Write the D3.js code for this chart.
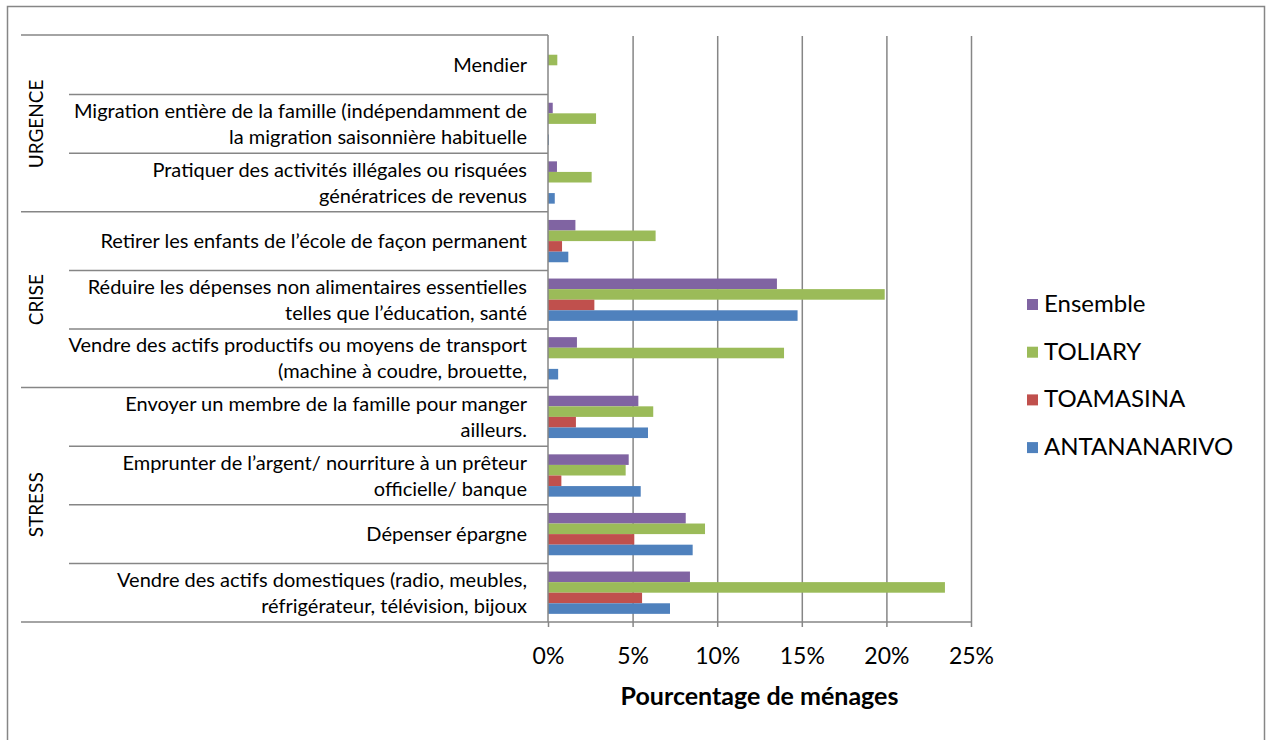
<!DOCTYPE html>
<html>
<head>
<meta charset="utf-8">
<script src="https://cdn.jsdelivr.net/npm/d3@7"></script>
<style>
  body { margin: 0; background: #fff; }
  svg { display: block; font-family: Lato, "Open Sans", sans-serif; }
</style>
</head>
<body>
<svg id="chart" width="1266" height="740"></svg>
<script>
// categories top to bottom, "\n" = line break in the label
var categories = [
    "Mendier",
    "Migration entière de la famille (indépendamment de\nla migration saisonnière habituelle",
    "Pratiquer des activités illégales ou risquées\ngénératrices de revenus",
    "Retirer les enfants de l’école de façon permanent",
    "Réduire les dépenses non alimentaires essentielles\ntelles que l’éducation, santé",
    "Vendre des actifs productifs ou moyens de transport\n(machine à coudre, brouette,",
    "Envoyer un membre de la famille pour manger\nailleurs.",
    "Emprunter de l’argent/ nourriture à un prêteur\nofficielle/ banque",
    "Dépenser épargne",
    "Vendre des actifs domestiques (radio, meubles,\nréfrigérateur, télévision, bijoux"
];

var groups = ["URGENCE", "CRISE", "STRESS"];
var groupSizes = [3, 3, 4];

var series = ["Ensemble", "TOLIARY", "TOAMASINA", "ANTANANARIVO"];
var ensemble     = [0,    0.28, 0.53, 1.62, 13.53, 1.71,  5.34, 4.77, 8.14, 8.39];
var toliary      = [0.55, 2.84, 2.58, 6.36, 19.9,  13.95, 6.22, 4.59, 9.28, 23.46];
var toamasina    = [0,    0,    0,    0.83, 2.74,  0,     1.65, 0.79, 5.1,  5.56];
var antananarivo = [0,    0.05, 0.4,  1.2,  14.75, 0.6,   5.91, 5.48, 8.55, 7.21];

var xTicks = [0, 5, 10, 15, 20, 25];
var colors = ["#8064A2", "#9BBB59", "#C0504D", "#4F81BD"];

var values = [ensemble, toliary, toamasina, antananarivo];

var svg = d3.select("#chart");
var lineColor = "#868686";

var plotLeft = 548, plotRight = 971, plotTop = 36, plotBottom = 622;

var x = d3.scaleLinear().domain([0, 25]).range([plotLeft, plotRight]);
var y = d3.scaleBand().domain(categories).range([plotTop, plotBottom]);
var ySub = d3.scaleBand().domain(series).range([0, y.bandwidth()])
    .paddingInner(0).paddingOuter(0.77);
var color = d3.scaleOrdinal().domain(series).range(colors);

// outer chart border
svg.append("rect")
    .attr("x", 7.5).attr("y", 6.5)
    .attr("width", 1257).attr("height", 760)
    .attr("fill", "none").attr("stroke", lineColor).attr("stroke-width", 1.5);

// vertical gridlines
svg.append("g")
    .attr("transform", "translate(0," + plotTop + ")")
    .call(d3.axisBottom(x).tickValues(xTicks.slice(1)).tickSize(plotBottom - plotTop).tickFormat(""))
    .call(function (g) {
        g.select(".domain").remove();
        g.selectAll("line").attr("stroke", lineColor).attr("stroke-width", 1.5);
    });

// bars
var rows = svg.append("g").selectAll("g")
    .data(categories)
    .join("g")
    .attr("transform", function (d) { return "translate(0," + y(d) + ")"; });

rows.selectAll("rect")
    .data(function (d, i) {
        return series.map(function (s, j) { return { s: s, v: values[j][i] }; });
    })
    .join("rect")
    .attr("x", x(0))
    .attr("y", function (d) { return ySub(d.s); })
    .attr("width", function (d) { return x(d.v) - x(0); })
    .attr("height", ySub.bandwidth())
    .attr("fill", function (d) { return color(d.s); });

// x axis
var xAxis = svg.append("g")
    .attr("transform", "translate(0," + plotBottom + ")")
    .call(d3.axisBottom(x).tickValues(xTicks).tickSize(5).tickPadding(21)
        .tickFormat(function (d) { return d + "%"; }));
xAxis.select(".domain").attr("stroke", lineColor).attr("stroke-width", 1.5)
    .attr("d", "M" + plotLeft + ",0H" + plotRight);
xAxis.selectAll("line").attr("stroke", lineColor).attr("stroke-width", 1.5);
xAxis.selectAll("text")
    .attr("font-family", "Lato, sans-serif")
    .attr("font-size", 23).attr("fill", "#000");

svg.append("text")
    .attr("x", (x(0) + x(25)) / 2).attr("y", 705)
    .attr("text-anchor", "middle")
    .attr("font-size", 25).attr("font-weight", "bold")
    .text("Pourcentage de ménages");

// category axis lines
var cat = svg.append("g").attr("stroke", lineColor).attr("stroke-width", 1.5);
cat.append("line").attr("x1", plotLeft).attr("x2", plotLeft).attr("y1", plotTop - 1).attr("y2", plotBottom);
cat.append("line").attr("x1", 21).attr("x2", plotLeft).attr("y1", plotTop - 1).attr("y2", plotTop - 1);

var start = 0;
var groupStarts = groupSizes.map(function (n) { var s = start; start += n; return s; });

categories.forEach(function (c, i) {
    if (i === 0) return;
    var isGroup = groupStarts.indexOf(i) >= 0;
    cat.append("line")
        .attr("x1", isGroup ? 21 : 69).attr("x2", plotLeft)
        .attr("y1", y(c)).attr("y2", y(c));
});
cat.append("line").attr("x1", 21).attr("x2", plotLeft).attr("y1", plotBottom).attr("y2", plotBottom);

// category labels
svg.append("g").selectAll("text")
    .data(categories)
    .join("text")
    .attr("text-anchor", "end")
    .attr("font-size", 20)
    .attr("fill", "#000")
    .each(function (d) {
        var lines = d.split("\n");
        var t = d3.select(this);
        var cy = y(d) + y.bandwidth() / 2;
        var lh = 26;
        lines.forEach(function (l, k) {
            t.append("tspan")
                .attr("x", 527)
                .attr("y", cy + (k - (lines.length - 1) / 2) * lh + 7)
                .text(l);
        });
    });

// group labels (rotated)
svg.append("g").selectAll("text")
    .data(groups)
    .join("text")
    .attr("text-anchor", "middle")
    .attr("font-size", 19)
    .attr("fill", "#000")
    .attr("transform", function (d, i) {
        var a = y(categories[groupStarts[i]]);
        var b = y(categories[groupStarts[i] + groupSizes[i] - 1]) + y.bandwidth();
        return "translate(43," + (a + b) / 2 + ") rotate(-90)";
    })
    .text(function (d) { return d; });

// legend
var legend = svg.append("g").selectAll("g")
    .data(series)
    .join("g")
    .attr("transform", function (d, i) { return "translate(1027," + (303 + i * 47.7) + ")"; });
legend.append("rect")
    .attr("x", 0).attr("y", -4).attr("width", 11).attr("height", 11)
    .attr("fill", function (d) { return color(d); });
legend.append("text")
    .attr("x", 17).attr("y", 9)
    .attr("font-size", 24).attr("fill", "#000")
    .text(function (d) { return d; });
</script>
</body>
</html>
